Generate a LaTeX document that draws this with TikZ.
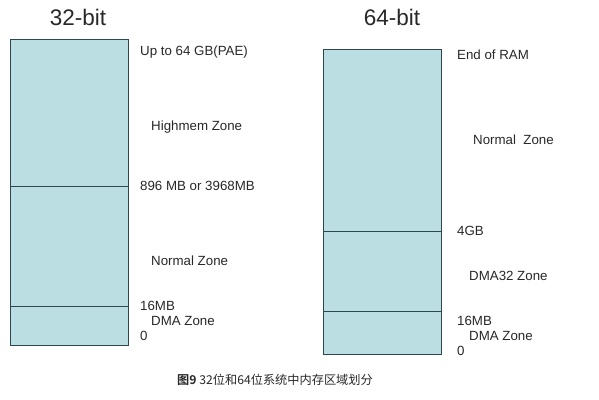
\documentclass[tikz,border=0pt]{standalone}
\usepackage{fontspec}
\setmainfont{Liberation Sans}
\newfontfamily\cjk{Noto Sans CJK SC}[BoldFont={Noto Sans CJK SC Bold}]
\usetikzlibrary{positioning}
\definecolor{cZone}{RGB}{186,222,226}
\definecolor{cEdge}{RGB}{45,70,80}
\definecolor{cText}{RGB}{40,40,40}
\tikzset{
  zone-box/.style={draw=cEdge,fill=cZone,line width=0.9pt,anchor=north west,
    minimum width=118pt,inner sep=0pt},
  mark-label/.style={anchor=west,inner sep=0pt,text height=9.5pt,text depth=0pt,
    font=\fontsize{13.3}{15}\selectfont,text=cText},
  title-label/.style={font=\fontsize{22.5}{25}\selectfont,text=cText,inner sep=0pt},
}

\begin{document}
\begin{tikzpicture}[x=1pt,y=-1pt]
  \useasboundingbox[fill=white] (0,0) rectangle (599,399);
  % 32-bit
  \node[title-label] (t32) at (78,17) {32-bit};
  \node[zone-box,minimum height=147pt] (hi32)  at (10,39)  {};
  \node[zone-box,minimum height=120pt] (nor32) at (10,186) {};
  \node[zone-box,minimum height=39pt]  (dma32) at (10,306) {};
  \node[mark-label] (l32a) at (140,51)  {Up to 64 GB(PAE)};
  \node[mark-label] (l32b) at (151,126) {Highmem Zone};
  \node[mark-label] (l32c) at (140,186) {896 MB or 3968MB};
  \node[mark-label] (l32d) at (151,261) {Normal Zone};
  \node[mark-label] (l32e) at (140,306) {16MB};
  \node[mark-label] (l32f) at (151,321) {DMA Zone};
  \node[mark-label] (l32g) at (140,336) {0};
  % 64-bit
  \node[title-label] (t64) at (392,17) {64-bit};
  \node[zone-box,minimum height=182pt] (nor64)   at (323,49)  {};
  \node[zone-box,minimum height=80pt]  (dma3264) at (323,231) {};
  \node[zone-box,minimum height=43pt]  (dma64)   at (323,311) {};
  \node[mark-label] (l64a) at (457,55)  {End of RAM};
  \node[mark-label] (l64b) at (473,140) {Normal\ \ Zone};
  \node[mark-label] (l64c) at (457,231) {4GB};
  \node[mark-label] (l64d) at (469,276) {DMA32 Zone};
  \node[mark-label] (l64e) at (457,321) {16MB};
  \node[mark-label] (l64f) at (469,336) {DMA Zone};
  \node[mark-label] (l64g) at (457,351) {0};
  % caption
  \node[anchor=west,inner sep=0pt,text=cText,font=\cjk\fontsize{12.2}{14}\selectfont]
    (cap) at (177,380) {\textbf{图9}\ 32位和64位系统中内存区域划分};
\end{tikzpicture}
\end{document}
